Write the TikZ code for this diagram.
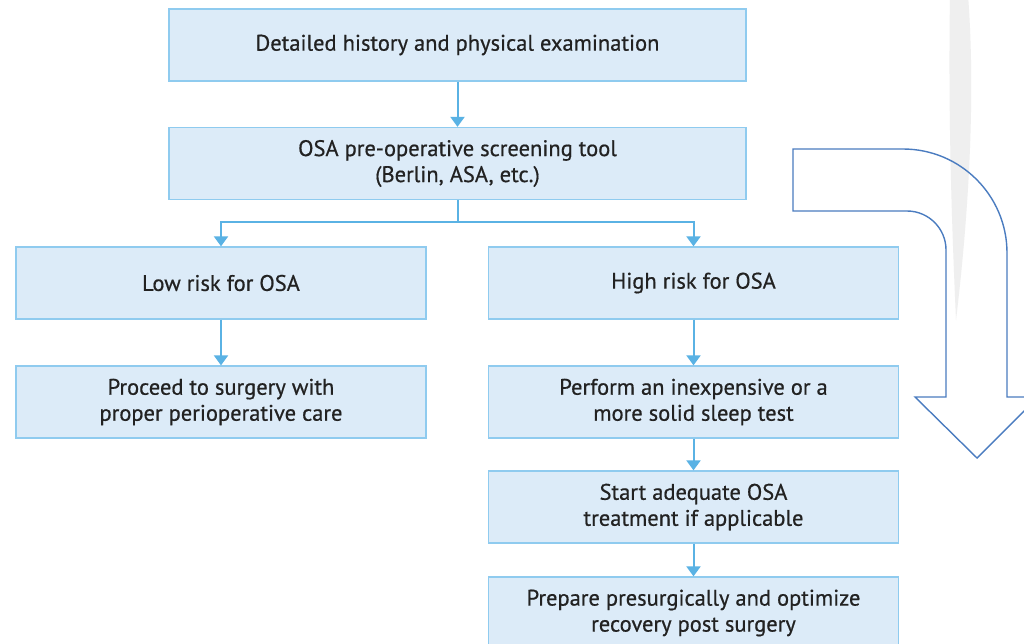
\documentclass[tikz,border=0pt]{standalone}
\usepackage{fontspec}
\setmainfont{PT Sans}
\newfontfamily\boxfont[FakeBold=0.6]{PT Sans}
\usetikzlibrary{arrows.meta}
\definecolor{boxfill}{HTML}{DCEBF8}
\definecolor{boxline}{HTML}{8FCBEF}
\definecolor{conncol}{HTML}{5AB2E4}
\definecolor{bigarrow}{HTML}{4A7CC0}
\definecolor{txt}{HTML}{222222}
\definecolor{faint}{HTML}{EFEFEF}
\tikzset{
  box/.style={draw=boxline, line width=1.3pt, fill=boxfill, minimum width=410pt,
    minimum height=72pt, inner sep=0pt, align=center, text=txt,
    font=\boxfont\fontsize{22.5}{26}\selectfont},
  widebox/.style={box, minimum width=577pt},
  conn/.style={draw=conncol, line width=2pt, -{Triangle[width=14pt,length=10pt]}},
  connline/.style={draw=conncol, line width=2pt},
  bigarr/.style={draw=bigarrow, line width=1.4pt, line join=miter}
}
\begin{document}
\begin{tikzpicture}[x=1pt,y=-1pt]
\useasboundingbox (0,0) rectangle (1024,643);
\clip (0,0) rectangle (1024,643);
\fill[white] (0,0) rectangle (1024,643);
% faint background shape
\fill[faint] (950,-5) .. controls (948,120) and (952,230) .. (956,320)
  .. controls (968,220) and (976,100) .. (968,-5) -- cycle;
% big curved arrow
\draw[bigarr] (793,149) -- (903,149) arc[start angle=-90, end angle=0, radius=104]
  -- (1007,397) -- (1038,397) -- (977,458) -- (915,397) -- (946,397)
  -- (946,250) arc[start angle=0, end angle=-90, radius=39] -- (793,211) -- cycle;
% boxes
\node[widebox] (b1) at (457.5,45) {Detailed history and physical examination};
\node[widebox] (b2) at (457.5,163.5) {OSA pre-operative screening tool\\(Berlin, ASA, etc.)};
\node[box] (b3) at (221,283) {Low risk for OSA};
\node[box] (b4) at (693.5,283) {High risk for OSA};
\node[box] (b5) at (221,402) {Proceed to surgery with\\proper perioperative care};
\node[box] (b6) at (693.5,402) {Perform an inexpensive or a\\more solid sleep test};
\node[box] (b7) at (693.5,507) {Start adequate OSA\\treatment if applicable};
\node[box] (b8) at (693.5,613) {Prepare presurgically and optimize\\recovery post surgery};
% connectors
\coordinate (split) at (457.5,222);
\draw[conn] (b1) -- (b2);
\draw[connline] (b2.south) -- (split);
\draw[conn] (split) -| (b3.north);
\draw[conn] (split) -| (b4.north);
\draw[conn] (b3) -- (b5);
\draw[conn] (b4) -- (b6);
\draw[conn] (b6) -- (b7);
\draw[conn] (b7) -- (b8);
\end{tikzpicture}
\end{document}
